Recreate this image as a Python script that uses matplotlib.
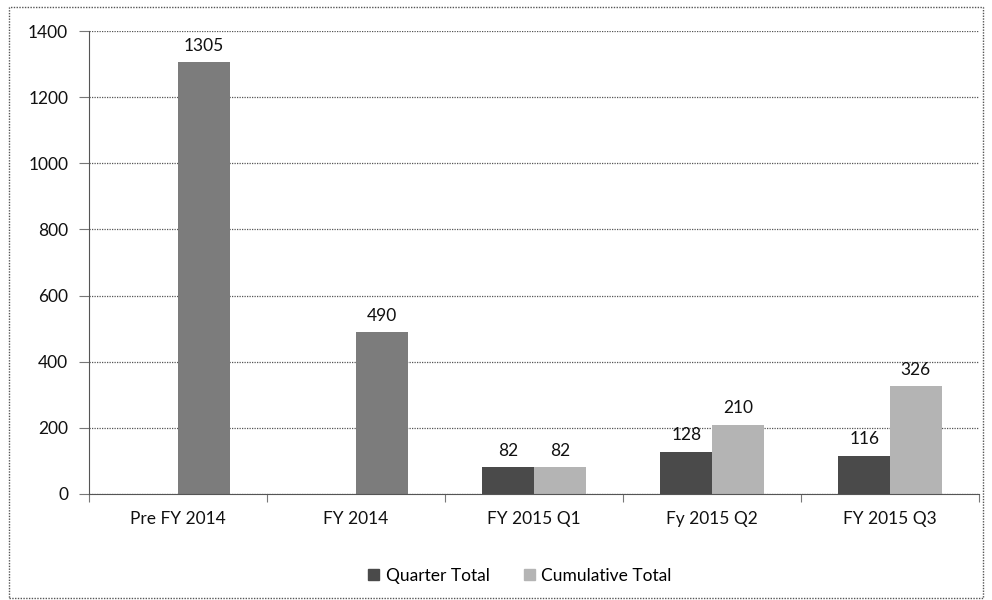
import matplotlib
matplotlib.use("Agg")
import matplotlib.pyplot as plt
from matplotlib.patches import Rectangle, Patch
import numpy as np

categories = ["Pre FY 2014", "FY 2014", "FY 2015 Q1", "Fy 2015 Q2", "FY 2015 Q3"]
quarter_total = [None, None, 82, 128, 116]
cumulative_total = [1305, 490, 82, 210, 326]
y_ticks = [0, 200, 400, 600, 800, 1000, 1200, 1400]

c_quarter = "#4a4a4a"
c_cum = "#b4b4b4"
c_early = "#7c7c7c"

plt.rcParams['font.family'] = ['Lato', 'DejaVu Sans']

fig = plt.figure(figsize=(9.92, 6.0), dpi=100)
ax = fig.add_axes([89/992, 1-494/600, (979-89)/992, (494-31)/600])

x = np.arange(len(categories))
w = 0.29
for i in range(len(categories)):
    q = quarter_total[i]
    c = cumulative_total[i]
    if q is not None:
        ax.bar(x[i] - w/2, q, w, color=c_quarter, linewidth=0)
        ax.annotate(str(q), (x[i] - w/2, q), xytext=(0, 6), textcoords="offset points",
                    ha="center", va="bottom", fontsize=12.5, color="#111111")
        col = c_cum
    else:
        col = c_early
    ax.bar(x[i] + w/2, c, w, color=col, linewidth=0)
    ax.annotate(str(c), (x[i] + w/2, c), xytext=(0, 6), textcoords="offset points",
                ha="center", va="bottom", fontsize=12.5, color="#111111")

ax.set_xlim(-0.5, len(categories) - 0.5)
ax.set_ylim(0, 1400)
ax.set_yticks(y_ticks)
ax.set_yticklabels([str(v) for v in y_ticks], fontsize=12.5, color="#111111")
ax.yaxis.grid(True, linestyle=(0, (1, 1)), color="#555555", linewidth=0.9)
ax.set_axisbelow(True)
ax.tick_params(axis="y", length=7, width=0.8, color="#777777", pad=8)

ax.set_xticks(x)
ax.set_xticklabels(categories, fontsize=12.5, color="#111111")
ax.tick_params(axis="x", length=0, pad=12)
ax.set_xticks(np.arange(-0.5, len(categories)), minor=True)
ax.tick_params(axis="x", which="minor", length=6, width=0.8, color="#777777")

for s in ["top", "right"]:
    ax.spines[s].set_visible(False)
ax.spines["left"].set_linestyle((0, (1, 1)))
ax.spines["left"].set_color("#555555")
ax.spines["bottom"].set_linestyle((0, (1, 1)))
ax.spines["bottom"].set_color("#555555")

handles = [Patch(color=c_quarter, label="Quarter Total"), Patch(color=c_cum, label="Cumulative Total")]
fig.legend(handles=handles, loc="center", bbox_to_anchor=(520/992, 1-576/600), ncol=2,
           frameon=False, fontsize=12.5, handlelength=0.6, handleheight=0.6, columnspacing=2.0,
           handletextpad=0.4)

border = Rectangle((9/992, 2/600), 974/992, 591/600, transform=fig.transFigure,
                   fill=False, linestyle=(0, (1, 1)), edgecolor="#555555", linewidth=1.0)
fig.add_artist(border)

fig.savefig("out.png", dpi=100)
